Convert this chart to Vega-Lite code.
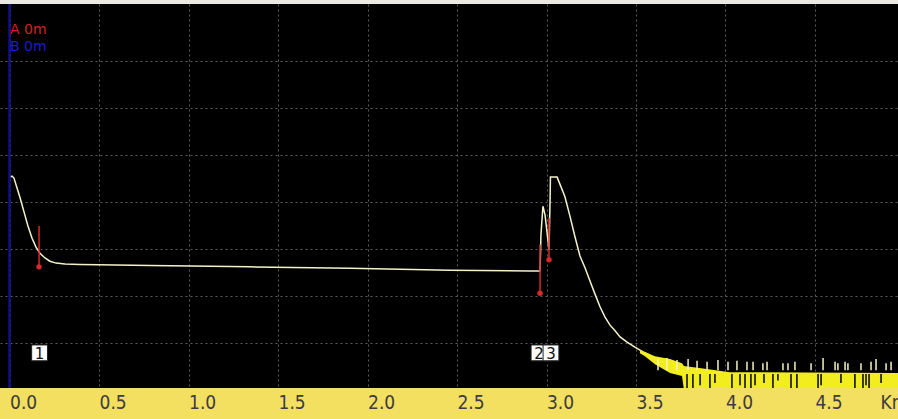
{
  "$schema": "https://vega.github.io/schema/vega-lite/v6.json",
  "autosize": {"type": "none"},
  "padding": {"left": 0, "top": 4, "right": 0, "bottom": 31},
  "width": 898,
  "height": 384,
  "background": "#f3df60",
  "config": {"view": {"fill": "#000000", "stroke": null}},
  "datasets": {
    "one": [{"n": 1}],
    "trace": [
      {"km": 0.003, "db": 4.53}, {"km": 0.014, "db": 4.55}, {"km": 0.025, "db": 4.51},
      {"km": 0.042, "db": 4.30}, {"km": 0.059, "db": 4.09}, {"km": 0.081, "db": 3.79},
      {"km": 0.103, "db": 3.49}, {"km": 0.126, "db": 3.23}, {"km": 0.148, "db": 3.04},
      {"km": 0.170, "db": 2.91}, {"km": 0.198, "db": 2.81}, {"km": 0.226, "db": 2.74},
      {"km": 0.260, "db": 2.70}, {"km": 0.310, "db": 2.68}, {"km": 0.394, "db": 2.67},
      {"km": 0.785, "db": 2.65}, {"km": 1.344, "db": 2.62}, {"km": 1.902, "db": 2.59},
      {"km": 2.461, "db": 2.55}, {"km": 2.908, "db": 2.53}, {"km": 2.958, "db": 2.53},
      {"km": 2.964, "db": 2.53}, {"km": 2.969, "db": 3.30}, {"km": 2.980, "db": 3.91},
      {"km": 2.992, "db": 3.72}, {"km": 3.008, "db": 3.19}, {"km": 3.014, "db": 2.98},
      {"km": 3.020, "db": 4.04}, {"km": 3.022, "db": 4.53}, {"km": 3.059, "db": 4.53},
      {"km": 3.075, "db": 4.38}, {"km": 3.103, "db": 4.11}, {"km": 3.131, "db": 3.70},
      {"km": 3.159, "db": 3.26}, {"km": 3.187, "db": 2.85}, {"km": 3.215, "db": 2.60},
      {"km": 3.243, "db": 2.32}, {"km": 3.271, "db": 2.04}, {"km": 3.299, "db": 1.77},
      {"km": 3.327, "db": 1.55}, {"km": 3.355, "db": 1.38}, {"km": 3.383, "db": 1.26},
      {"km": 3.411, "db": 1.13}, {"km": 3.450, "db": 1.02}, {"km": 3.494, "db": 0.91},
      {"km": 3.539, "db": 0.81}, {"km": 3.578, "db": 0.74}
    ],
    "band": [
      {"km": 3.522, "top": 0.85, "bottom": 0.78},
      {"km": 3.550, "top": 0.81, "bottom": 0.72},
      {"km": 3.606, "top": 0.72, "bottom": 0.55},
      {"km": 3.690, "top": 0.66, "bottom": 0.36},
      {"km": 3.757, "top": 0.57, "bottom": 0.30},
      {"km": 3.768, "top": 0.51, "bottom": 0.0},
      {"km": 3.885, "top": 0.45, "bottom": 0.0},
      {"km": 4.025, "top": 0.38, "bottom": 0.0},
      {"km": 4.964, "top": 0.36, "bottom": 0.0}
    ],
    "spikes": [
      {"km": 3.623, "top": 0.66, "base": 0.42}, {"km": 3.673, "top": 0.68, "base": 0.42}, {"km": 3.729, "top": 0.64, "base": 0.42},
      {"km": 3.791, "top": 0.66, "base": 0.42}, {"km": 3.841, "top": 0.62, "base": 0.42}, {"km": 3.897, "top": 0.60, "base": 0.42},
      {"km": 3.958, "top": 0.64, "base": 0.42}, {"km": 4.014, "top": 0.60, "base": 0.42}, {"km": 4.064, "top": 0.62, "base": 0.42},
      {"km": 4.120, "top": 0.60, "base": 0.42}, {"km": 4.154, "top": 0.60, "base": 0.42}, {"km": 4.209, "top": 0.57, "base": 0.42},
      {"km": 4.232, "top": 0.60, "base": 0.42}, {"km": 4.321, "top": 0.57, "base": 0.42}, {"km": 4.349, "top": 0.57, "base": 0.42},
      {"km": 4.388, "top": 0.60, "base": 0.42}, {"km": 4.478, "top": 0.57, "base": 0.42}, {"km": 4.545, "top": 0.68, "base": 0.42},
      {"km": 4.612, "top": 0.60, "base": 0.42}, {"km": 4.628, "top": 0.57, "base": 0.42}, {"km": 4.668, "top": 0.60, "base": 0.42},
      {"km": 4.684, "top": 0.57, "base": 0.42}, {"km": 4.757, "top": 0.57, "base": 0.42}, {"km": 4.813, "top": 0.60, "base": 0.42},
      {"km": 4.841, "top": 0.66, "base": 0.42}, {"km": 4.897, "top": 0.57, "base": 0.42}, {"km": 4.925, "top": 0.60, "base": 0.42}
    ],
    "notches": [
      {"km": 3.785, "top": 0.34, "low": 0.0}, {"km": 3.818, "top": 0.34, "low": 0.0}, {"km": 3.858, "top": 0.34, "low": 0.10},
      {"km": 3.913, "top": 0.34, "low": 0.0}, {"km": 3.941, "top": 0.34, "low": 0.15}, {"km": 4.036, "top": 0.34, "low": 0.0},
      {"km": 4.081, "top": 0.34, "low": 0.10}, {"km": 4.109, "top": 0.34, "low": 0.0}, {"km": 4.142, "top": 0.34, "low": 0.0},
      {"km": 4.165, "top": 0.34, "low": 0.10}, {"km": 4.215, "top": 0.34, "low": 0.15}, {"km": 4.265, "top": 0.34, "low": 0.0},
      {"km": 4.293, "top": 0.34, "low": 0.20}, {"km": 4.366, "top": 0.34, "low": 0.0}, {"km": 4.399, "top": 0.34, "low": 0.0},
      {"km": 4.517, "top": 0.34, "low": 0.0}, {"km": 4.534, "top": 0.34, "low": 0.10}, {"km": 4.645, "top": 0.34, "low": 0.15},
      {"km": 4.723, "top": 0.34, "low": 0.0}, {"km": 4.768, "top": 0.34, "low": 0.0}, {"km": 4.785, "top": 0.34, "low": 0.10},
      {"km": 4.802, "top": 0.34, "low": 0.0}, {"km": 4.869, "top": 0.34, "low": 0.15}
    ],
    "markers": [
      {"km": 0.165, "top": 3.49, "base": 2.62},
      {"km": 2.964, "top": 3.09, "base": 2.06},
      {"km": 3.014, "top": 3.66, "base": 2.77}
    ],
    "labels": [
      {"km": 0.168, "y": 0.79, "label": "1"},
      {"km": 2.958, "y": 0.79, "label": "2"},
      {"km": 3.025, "y": 0.79, "label": "3"}
    ],
    "readout": [
      {"km": 0.003, "y": 7.58, "label": "A 0m", "cursor": "A"},
      {"km": 0.003, "y": 7.21, "label": "B 0m", "cursor": "B"}
    ]
  },
  "layer": [
    {
      "data": {"name": "trace"},
      "mark": {"type": "line", "color": "#f5f2c8", "strokeWidth": 1.5},
      "encoding": {
        "x": {
          "field": "km", "type": "quantitative",
          "scale": {"domain": [-0.0531, 4.9637], "nice": false, "zero": false},
          "axis": {
            "values": [0, 0.5, 1, 1.5, 2, 2.5, 3, 3.5, 4, 4.5],
            "format": ".1f",
            "grid": true, "gridColor": "#5e5e5e", "gridDash": [2, 3], "gridWidth": 1,
            "domain": false, "ticks": false,
            "labelAlign": "left", "labelBaseline": "top", "labelPadding": 5,
            "labelFontSize": 19, "labelFont": "Liberation Sans Narrow, DejaVu Sans Condensed, sans-serif",
            "labelColor": "#3c3c3c", "labelFlush": false, "labelOverlap": false,
            "title": "Km", "titleX": 880, "titleY": 5, "titleAlign": "left", "titleBaseline": "top",
            "titleFontSize": 19, "titleFont": "Liberation Sans Narrow, DejaVu Sans Condensed, sans-serif",
            "titleFontWeight": "normal", "titleColor": "#3c3c3c"
          }
        },
        "y": {
          "field": "db", "type": "quantitative",
          "scale": {"domain": [0.0426, 8.213], "nice": false, "zero": false},
          "axis": {
            "values": [1, 2, 3, 4, 5, 6, 7],
            "grid": true, "gridColor": "#5e5e5e", "gridDash": [2, 3], "gridWidth": 1,
            "domain": false, "ticks": false, "labels": false, "title": null
          }
        }
      }
    },
    {
      "data": {"name": "one"},
      "mark": {"type": "rule", "color": "#10108a", "strokeWidth": 2.5},
      "encoding": {"x": {"datum": 0, "type": "quantitative"}}
    },
    {
      "data": {"name": "one"},
      "mark": {"type": "rule", "color": "#ece9e0", "strokeWidth": 8, "clip": false},
      "encoding": {"y": {"datum": 8.3, "type": "quantitative"}}
    },
    {
      "data": {"name": "band"},
      "mark": {"type": "area", "color": "#f2ed1e", "clip": true},
      "encoding": {
        "x": {"field": "km", "type": "quantitative"},
        "y": {"field": "top", "type": "quantitative"},
        "y2": {"field": "bottom"}
      }
    },
    {
      "data": {"name": "spikes"},
      "mark": {"type": "rule", "color": "#f6f4c0", "strokeWidth": 1.5},
      "encoding": {
        "x": {"field": "km", "type": "quantitative"},
        "y": {"field": "top", "type": "quantitative"},
        "y2": {"field": "base"}
      }
    },
    {
      "data": {"name": "notches"},
      "mark": {"type": "rule", "color": "#000000", "strokeWidth": 1.5, "clip": true},
      "encoding": {
        "x": {"field": "km", "type": "quantitative"},
        "y": {"field": "top", "type": "quantitative"},
        "y2": {"field": "low"}
      }
    },
    {
      "data": {"name": "markers"},
      "mark": {"type": "rule", "color": "#d42a2a", "strokeWidth": 1.5},
      "encoding": {
        "x": {"field": "km", "type": "quantitative"},
        "y": {"field": "top", "type": "quantitative"},
        "y2": {"field": "base"}
      }
    },
    {
      "data": {"name": "markers"},
      "mark": {"type": "point", "shape": "circle", "filled": true, "color": "#d42a2a", "size": 30, "opacity": 1},
      "encoding": {
        "x": {"field": "km", "type": "quantitative"},
        "y": {"field": "base", "type": "quantitative"}
      }
    },
    {
      "data": {"name": "labels"},
      "mark": {"type": "point", "shape": "square", "filled": true, "fill": "#ffffff", "stroke": "#222222", "strokeWidth": 1, "size": 250, "opacity": 1},
      "encoding": {
        "x": {"field": "km", "type": "quantitative"},
        "y": {"field": "y", "type": "quantitative"}
      }
    },
    {
      "data": {"name": "labels"},
      "mark": {"type": "text", "color": "#111111", "fontSize": 15, "font": "DejaVu Sans", "align": "center", "baseline": "middle", "dy": 1},
      "encoding": {
        "x": {"field": "km", "type": "quantitative"},
        "y": {"field": "y", "type": "quantitative"},
        "text": {"field": "label"}
      }
    },
    {
      "data": {"name": "readout"},
      "mark": {"type": "text", "fontSize": 14, "font": "DejaVu Sans", "align": "left", "baseline": "alphabetic"},
      "encoding": {
        "x": {"field": "km", "type": "quantitative"},
        "y": {"field": "y", "type": "quantitative"},
        "text": {"field": "label"},
        "color": {"field": "cursor", "type": "nominal", "scale": {"domain": ["A", "B"], "range": ["#d42020", "#1c1cd0"]}, "legend": null}
      }
    }
  ]
}
